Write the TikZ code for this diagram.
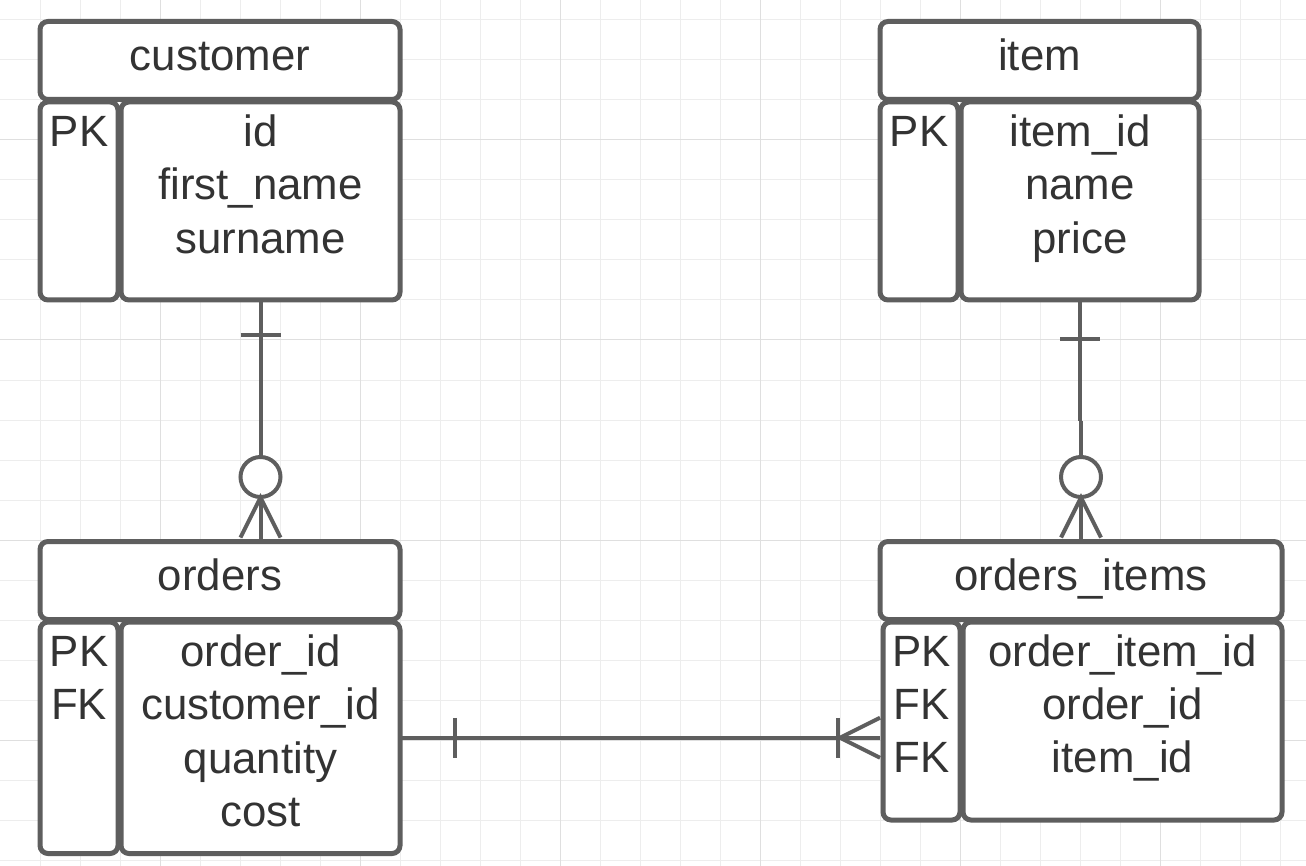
\documentclass[tikz,border=0pt]{standalone}
\usepackage{fontspec}
\setmainfont{Liberation Sans}
\usetikzlibrary{calc}
\definecolor{edge}{HTML}{5E5E5E}
\definecolor{ink}{HTML}{333333}
\definecolor{gridminor}{HTML}{EDEDED}
\definecolor{gridmajor}{HTML}{DFDFDF}
\begin{document}
\begin{tikzpicture}[x=1pt,y=-1pt,
  tbox/.style={draw=edge, line width=5pt, fill=white, rounded corners=8pt, inner sep=0pt, outer sep=0pt},
  lbl/.style={anchor=base, text=ink, font=\fontsize{43.8}{53}\selectfont, inner sep=0pt, outer sep=0pt},
  conn/.style={draw=edge, line width=4pt},
  gminor/.style={draw=gridminor, line width=1pt},
  gmajor/.style={draw=gridmajor, line width=1pt}]
\useasboundingbox (0,0) rectangle (1306,866);
\fill[white] (0,0) rectangle (1306,866);
% grid
\foreach \x in {40,80,...,1280} \draw[gminor] (\x,0) -- (\x,866);
\foreach \y in {20,60,...,860} \draw[gminor] (0,\y) -- (1306,\y);
\foreach \x in {160,360,...,1160} \draw[gmajor] (\x,0) -- (\x,866);
\foreach \y in {140,340,540,740} \draw[gmajor] (0,\y) -- (1306,\y);
% tables
\node[tbox, minimum width=360pt, minimum height=78pt] (custH) at (220,60.5) {};
\node[tbox, minimum width=78pt, minimum height=198pt] (custK) at (79,201) {};
\node[tbox, minimum width=279pt, minimum height=198pt] (custF) at (260.5,201) {};
\node[tbox, minimum width=319pt, minimum height=78pt] (itemH) at (1039.5,60.5) {};
\node[tbox, minimum width=78pt, minimum height=198pt] (itemK) at (919,201) {};
\node[tbox, minimum width=238pt, minimum height=198pt] (itemF) at (1080,201) {};
\node[tbox, minimum width=360pt, minimum height=78pt] (ordH) at (220,580.5) {};
\node[tbox, minimum width=78pt, minimum height=231.5pt] (ordK) at (79,737.75) {};
\node[tbox, minimum width=279pt, minimum height=231.5pt] (ordF) at (260.5,737.75) {};
\node[tbox, minimum width=402pt, minimum height=78pt] (oiH) at (1081,580.5) {};
\node[tbox, minimum width=77pt, minimum height=198pt] (oiK) at (921.5,721) {};
\node[tbox, minimum width=319pt, minimum height=198pt] (oiF) at (1122.5,721) {};
% connector customer -> orders
\draw[conn] (custF.south) -- ($(custF.south |- ordH.north)+(0,-84.5)$);
\draw[conn] ($(custF.south)+(-20,35.5)$) -- ++(40,0);
\draw[conn, fill=white] ($(custF.south |- ordH.north)+(0,-64.5)$) circle[radius=20pt];
\draw[conn] ($(custF.south |- ordH.north)+(0,-44)$) -- (custF.south |- ordH.north);
\draw[conn] ($(custF.south |- ordH.north)+(-20,-4)$) -- ($(custF.south |- ordH.north)+(0,-44)$) -- ($(custF.south |- ordH.north)+(20,-4)$);
% connector item -> orders_items
\draw[conn] (itemF.south) -- ($(itemF.south)+(0,120.5)$);
\draw[conn] ($(oiH.north)+(0,-121)$) -- ($(oiH.north)+(0,-84.5)$);
\draw[conn] ($(itemF.south)+(-20,39)$) -- ++(40,0);
\draw[conn, fill=white] ($(oiH.north)+(0,-64.5)$) circle[radius=20pt];
\draw[conn] ($(oiH.north)+(0,-44)$) -- (oiH.north);
\draw[conn] ($(oiH.north)+(-20,-4)$) -- ($(oiH.north)+(0,-44)$) -- ($(oiH.north)+(20,-4)$);
% connector orders -> orders_items
\draw[conn] (ordF.east) -- (ordF.east -| oiH.west);
\draw[conn] ($(ordF.east)+(55,-20)$) -- ++(0,40);
\draw[conn] ($(ordF.east -| oiH.west)+(-42,-20)$) -- ++(0,40);
\draw[conn] ($(ordF.east -| oiH.west)+(0,-20)$) -- ($(ordF.east -| oiH.west)+(-40,0)$) -- ($(ordF.east -| oiH.west)+(0,20)$);
% labels customer
\node[lbl] (custT) at ($(custH.north)+(0,49.3)$) {customer};
\node[lbl] (custK1) at ($(custK.north)+(0,44.7)$) {PK};
\node[lbl] (custF1) at ($(custF.north)+(0,44.7)$) {id};
\node[lbl] (custF2) at ($(custF.north)+(0,97.9)$) {first\_name};
\node[lbl] (custF3) at ($(custF.north)+(0,151.1)$) {surname};
% labels item
\node[lbl] (itemT) at ($(itemH.north)+(0,49.3)$) {item};
\node[lbl] (itemK1) at ($(itemK.north)+(0,44.7)$) {PK};
\node[lbl] (itemF1) at ($(itemF.north)+(0,44.7)$) {item\_id};
\node[lbl] (itemF2) at ($(itemF.north)+(0,97.9)$) {name};
\node[lbl] (itemF3) at ($(itemF.north)+(0,151.1)$) {price};
% labels orders
\node[lbl] (ordT) at ($(ordH.north)+(0,49.3)$) {orders};
\node[lbl] (ordK1) at ($(ordK.north)+(0,44.7)$) {PK};
\node[lbl] (ordK2) at ($(ordK.north)+(0,97.9)$) {FK};
\node[lbl] (ordF1) at ($(ordF.north)+(0,44.7)$) {order\_id};
\node[lbl] (ordF2) at ($(ordF.north)+(0,97.9)$) {customer\_id};
\node[lbl] (ordF3) at ($(ordF.north)+(0,151.1)$) {quantity};
\node[lbl] (ordF4) at ($(ordF.north)+(0,204.3)$) {cost};
% labels orders_items
\node[lbl] (oiT) at ($(oiH.north)+(0,49.3)$) {orders\_items};
\node[lbl] (oiK1) at ($(oiK.north)+(0,44.2)$) {PK};
\node[lbl] (oiK2) at ($(oiK.north)+(0,97.4)$) {FK};
\node[lbl] (oiK3) at ($(oiK.north)+(0,150.6)$) {FK};
\node[lbl] (oiF1) at ($(oiF.north)+(0,44.2)$) {order\_item\_id};
\node[lbl] (oiF2) at ($(oiF.north)+(0,97.4)$) {order\_id};
\node[lbl] (oiF3) at ($(oiF.north)+(0,150.6)$) {item\_id};
\end{tikzpicture}
\end{document}
